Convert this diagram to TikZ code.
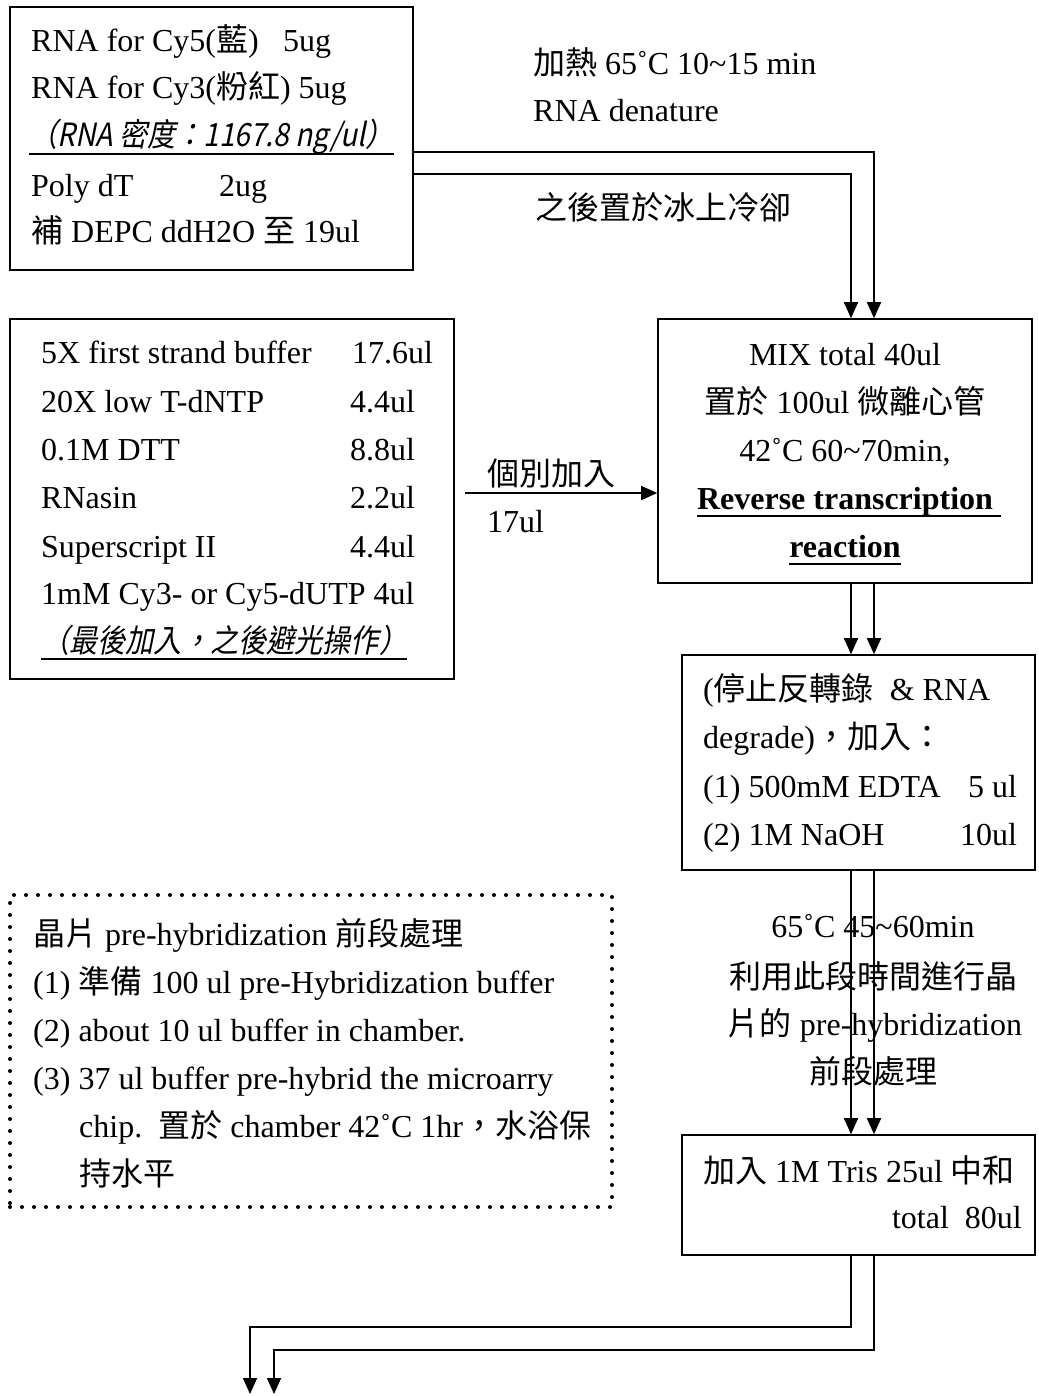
\documentclass[tikz,border=0pt]{standalone}
\usepackage{fontspec}
\setmainfont{Liberation Serif}
\newfontfamily\cjk{Noto Sans CJK TC}
\newfontfamily\cjkit[FakeSlant=0.2,FakeStretch=0.88]{Noto Sans CJK TC}
\newcommand\zh[1]{{\cjk #1}}
\newcommand\ulin[1]{\setbox0\hbox{#1}\rlap{\rule[-8pt]{\wd0}{2pt}}\box0}
\usetikzlibrary{arrows.meta,fit}
\begin{document}
\begin{tikzpicture}[x=1pt,y=-1pt,
  box/.style={draw,line width=1.6pt,inner sep=0pt,fit={#1}},
  dotbox/.style={draw,line width=4pt,dash pattern=on 0pt off 12pt,line cap=round,inner sep=0pt,fit={#1}},
  txt/.style={inner sep=0pt,anchor=base west,font=\fontsize{32}{48}\selectfont},
  ctxt/.style={txt,anchor=base},
  rtxt/.style={txt,anchor=base east},
  conn/.style={line width=1.6pt},
  arr/.style={conn,-{Triangle[width=14pt,length=16pt]}}]
\useasboundingbox (0,0) rectangle (1038,1396);

% boxes
\node[box={(10,7) (413,270)}] (b1) {};
\node[box={(10,319) (454,679)}] (reag) {};
\node[box={(658,319) (1032,583)}] (mix) {};
\node[box={(682,655) (1035,870)}] (stop) {};
\node[box={(682,1135) (1035,1255)}] (tris) {};
\node[dotbox={(10,895) (612,1207)}] (pre) {};

% box 1 text
\node[txt] (t11) at (31,52) {RNA for Cy5(\zh{藍})};
\node[txt] (t11v) at (283,52) {5ug};
\node[txt] (t12) at (31,99) {RNA for Cy3(\zh{粉紅}) 5ug};
\node[txt] (t13) at (29,147) {\ulin{\cjkit （RNA 密度：1167.8 ng/ul）}};
\node[txt] (t14) at (31,197) {Poly dT};
\node[txt] (t14v) at (219,197) {2ug};
\node[txt] (t15) at (31,243) {\zh{補} DEPC ddH2O \zh{至} 19ul};

% side labels
\node[txt] (l1) at (533,75) {\zh{加熱} 65˚C 10\textasciitilde15 min};
\node[txt] (l2) at (533,122) {RNA denature};
\node[txt] (l3) at (535,220) {\zh{之後置於冰上冷卻}};

% reagents box
\node[txt] (r1) at (41,363) {5X first strand buffer};
\node[txt] (r1v) at (352,363) {17.6ul};
\node[txt] (r2) at (41,412) {20X low T-dNTP};
\node[txt] (r2v) at (350,412) {4.4ul};
\node[txt] (r3) at (41,460) {0.1M DTT};
\node[txt] (r3v) at (350,460) {8.8ul};
\node[txt] (r4) at (41,508) {RNasin};
\node[txt] (r4v) at (350,508) {2.2ul};
\node[txt] (r5) at (41,557) {Superscript II};
\node[txt] (r5v) at (350,557) {4.4ul};
\node[txt] (r6) at (41,604) {1mM Cy3- or Cy5-dUTP 4ul};
\node[txt] (r7) at (41,652) {\ulin{\cjkit （最後加入，之後避光操作）}};

% arrow label
\node[txt] (a1) at (487,485) {\zh{個別加入}};
\node[txt] (a2) at (487,532) {17ul};

% mix box
\node[ctxt] (m1) at (845,365) {MIX total 40ul};
\node[ctxt] (m2) at (845,413) {\zh{置於} 100ul \zh{微離心管}};
\node[ctxt] (m3) at (845,461) {42˚C 60\textasciitilde70min,};
\node[ctxt] (m4) at (849,509) {\ulin{\bfseries Reverse transcription\ }};
\node[ctxt] (m5) at (845,557) {\ulin{\bfseries reaction}};

% stop box
\node[txt] (s1) at (703,700) {(\zh{停止反轉錄}\ \ \& RNA};
\node[txt] (s2) at (703,748) {degrade)\zh{，加入：}};
\node[txt] (s3) at (703,797) {(1) 500mM EDTA};
\node[txt] (s3v) at (968,797) {5 ul};
\node[txt] (s4) at (703,845) {(2) 1M NaOH};
\node[txt] (s4v) at (960,845) {10ul};

% middle labels
\node[ctxt] (c1) at (873,937) {65˚C 45\textasciitilde60min};
\node[ctxt] (c2) at (873,988) {\zh{利用此段時間進行晶}};
\node[ctxt] (c3) at (875,1035) {\zh{片的} pre-hybridization};
\node[ctxt] (c4) at (873,1083) {\zh{前段處理}};

% tris box
\node[txt] (u1) at (703,1182) {\zh{加入} 1M Tris 25ul \zh{中和}};
\node[rtxt] (u2) at (1022,1228) {total\ \ 80ul};

% dotted box text
\node[txt] (p1) at (33,945) {\zh{晶片} pre-hybridization \zh{前段處理}};
\node[txt] (p2) at (33,993) {(1) \zh{準備} 100 ul pre-Hybridization buffer};
\node[txt] (p3) at (33,1041) {(2) about 10 ul buffer in chamber.};
\node[txt] (p4) at (33,1089) {(3) 37 ul buffer pre-hybrid the microarry};
\node[txt] (p5) at (79,1137) {chip.\ \ \zh{置於} chamber 42˚C 1hr\zh{，水浴保}};
\node[txt] (p6) at (79,1185) {\zh{持水平}};

% connectors
\draw[arr] (b1.east |- 0,152) -| (mix.north -| 874,0);
\draw[arr] (b1.east |- 0,174) -| (mix.north -| 851,0);
\coordinate (aStart) at (465,493);
\draw[arr] (aStart) -- (mix.west |- aStart);
\draw[arr] (mix.south -| 851,0) -- (stop.north -| 851,0);
\draw[arr] (mix.south -| 874,0) -- (stop.north -| 874,0);
\draw[arr] (stop.south -| 851,0) -- (tris.north -| 851,0);
\draw[arr] (stop.south -| 874,0) -- (tris.north -| 874,0);
\coordinate (endA) at (250,1394);
\coordinate (endB) at (274,1394);
\draw[arr] (tris.south -| 851,0) -- (851,1327) -- (endA |- 0,1327) -- (endA);
\draw[arr] (tris.south -| 874,0) -- (874,1350) -- (endB |- 0,1350) -- (endB);
\end{tikzpicture}
\end{document}
